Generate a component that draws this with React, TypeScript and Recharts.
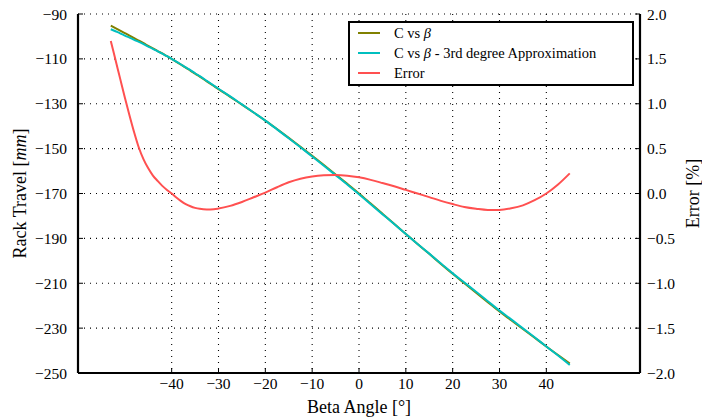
import { LineChart, Line, XAxis, YAxis, CartesianGrid, Legend } from "recharts";

const beta = [
    -53, -52, -51, -50, -49, -48, -47, -46, -45, -44, -43, -42, -41, -40, -39, -38, -37, -36,
    -35, -34, -32.5, -31, -30, -27.5, -25, -22.5, -20, -17.5, -15, -12.5, -10, -7.5, -5, -2.5,
    0, 2.5, 5, 7.5, 10, 12.5, 15, 17.5, 20, 22.5, 25, 27.5, 30, 32.5, 35, 37.5, 40, 42.5, 45,
];
const rackTravel = [
    -95.2, -96.3, -97.4, -98.5, -99.6, -100.8, -101.9, -103.0, -104.2, -105.3, -106.5, -107.6,
    -108.8, -110.0, -111.3, -112.6, -113.9, -115.2, -116.6, -117.9, -120.0, -122.1, -123.5, -126.9,
    -130.4, -133.9, -137.5, -141.3, -145.2, -149.2, -153.2, -157.3, -161.5, -165.7, -170.0, -174.5,
    -179.0, -183.5, -188.0, -192.5, -196.9, -201.4, -205.8, -210.0, -214.2, -218.4, -222.6, -226.5,
    -230.4, -234.3, -238.2, -242.0, -245.8,
];
const rackApprox = [
    -96.8, -97.7, -98.6, -99.6, -100.5, -101.5, -102.4, -103.4, -104.5, -105.5, -106.6, -107.7,
    -108.8, -110.0, -111.2, -112.5, -113.8, -115.0, -116.4, -117.7, -119.8, -121.9, -123.3, -126.7,
    -130.3, -133.9, -137.5, -141.4, -145.4, -149.4, -153.5, -157.6, -161.8, -166.0, -170.3, -174.8,
    -179.2, -183.6, -188.1, -192.5, -196.8, -201.2, -205.6, -209.7, -213.8, -218.0, -222.2, -226.1,
    -230.1, -234.1, -238.2, -242.2, -246.4,
];
const errorPct = [
    1.7, 1.49, 1.28, 1.07, 0.87, 0.68, 0.51, 0.38, 0.28, 0.2, 0.14, 0.085, 0.04, 0.0, -0.045, -0.085,
    -0.118, -0.142, -0.16, -0.171, -0.177, -0.175, -0.168, -0.138, -0.094, -0.042, 0.01, 0.07,
    0.125, 0.165, 0.19, 0.202, 0.205, 0.198, 0.18, 0.152, 0.117, 0.08, 0.04, 0.0, -0.04, -0.082,
    -0.118, -0.15, -0.17, -0.183, -0.183, -0.165, -0.132, -0.075, 0.0, 0.1, 0.224,
];

const xTicks = [-40, -30, -20, -10, 0, 10, 20, 30, 40];
const leftTicks = [-90, -110, -130, -150, -170, -190, -210, -230, -250];
const rightTicks = [2, 1.5, 1, 0.5, 0, -0.5, -1, -1.5, -2];

const data = beta.map((b, i) => ({
    beta: b,
    c: rackTravel[i],
    approx: rackApprox[i],
    err: errorPct[i],
}));

const FONT = "Liberation Serif";
const TXT = { fontFamily: FONT };
const minus = (s: string) => s.replace("-", "\u2212");

const legendItems = [
    { color: "#808000", label: <>C vs <tspan fontStyle="italic">β</tspan></> },
    { color: "#00bfbf", label: <>C vs <tspan fontStyle="italic">β</tspan> - 3rd degree Approximation</> },
    { color: "#ff5050", label: <>Error</> },
];

function LegendBox() {
    return (
        <svg width={286} height={65} style={{ display: "block" }}>
            <rect x={1} y={1} width={284} height={63} fill="#fff" stroke="#000" strokeWidth={2} />
            {legendItems.map((it, i) => (
                <g key={i}>
                    <line x1={10} x2={32} y1={12 + i * 20} y2={12 + i * 20} stroke={it.color} strokeWidth={2} />
                    <text x={46} y={17 + i * 20} style={TXT} fontSize={14.5} fill="#000">
                        {it.label}
                    </text>
                </g>
            ))}
        </svg>
    );
}

function BottomTick({ x, y, payload }: any) {
    return (
        <text x={x} y={y} dy="0.71em" textAnchor="middle" style={TXT} fontSize={15.5} fill="#000">
            {minus(String(payload.value))}
        </text>
    );
}

function LeftTick({ x, y, payload }: any) {
    return (
        <text x={x} y={y} dy="0.36em" textAnchor="end" style={TXT} fontSize={15.5} fill="#000">
            {minus(String(payload.value))}
        </text>
    );
}

function RightTick({ x, y, payload }: any) {
    return (
        <text x={x} y={y} dy="0.36em" textAnchor="start" style={TXT} fontSize={15.5} fill="#000">
            {minus(Number(payload.value).toFixed(1))}
        </text>
    );
}

function BottomLabel({ viewBox }: any) {
    const cx = viewBox.x + viewBox.width / 2;
    return (
        <text x={cx} y={413} textAnchor="middle" style={TXT} fontSize={18} fill="#000">
            Beta Angle [°]
        </text>
    );
}

function LeftLabel({ viewBox }: any) {
    const cx = 20;
    const cy = viewBox.y + viewBox.height / 2;
    return (
        <text x={cx} y={cy} transform={`rotate(-90 ${cx} ${cy})`} textAnchor="middle" dominantBaseline="central"
            style={TXT} fontSize={18} fill="#000">
            Rack Travel [<tspan fontStyle="italic">mm</tspan>]
        </text>
    );
}

function RightLabel({ viewBox }: any) {
    const cx = 693;
    const cy = viewBox.y + viewBox.height / 2;
    return (
        <text x={cx} y={cy} transform={`rotate(-90 ${cx} ${cy})`} textAnchor="middle" dominantBaseline="central"
            style={TXT} fontSize={18} fill="#000">
            Error [%]
        </text>
    );
}

const axisLine = { stroke: "#000", strokeWidth: 2.2 };
const tickLine = { stroke: "#000", strokeWidth: 1 };

export default function App() {
    return (
        <div style={{ position: "fixed", left: 0, top: 0, width: 702, height: 419, background: "#fff" }}>
            <LineChart width={702} height={419} data={data} margin={{ top: 14, right: 0, bottom: 0, left: 0 }}>
                <CartesianGrid stroke="#000" strokeDasharray="1 5" strokeWidth={1.1} fill="none" />
                <XAxis
                    dataKey="beta"
                    type="number"
                    domain={[-60, 60]}
                    ticks={xTicks}
                    height={46}
                    axisLine={axisLine}
                    tickLine={tickLine}
                    tickSize={-5}
                    tickMargin={10}
                    tick={<BottomTick />}
                    label={<BottomLabel />}
                />
                <XAxis
                    xAxisId="top"
                    dataKey="beta"
                    type="number"
                    orientation="top"
                    domain={[-60, 60]}
                    ticks={xTicks}
                    height={0}
                    axisLine={axisLine}
                    tickLine={tickLine}
                    tickSize={-5}
                    tick={false}
                />
                <YAxis
                    type="number"
                    domain={[-250, -90]}
                    ticks={leftTicks}
                    width={78}
                    axisLine={axisLine}
                    tickLine={tickLine}
                    tickSize={-5}
                    tickMargin={16}
                    tick={<LeftTick />}
                    label={<LeftLabel />}
                />
                <YAxis
                    yAxisId="right"
                    orientation="right"
                    type="number"
                    domain={[-2, 2]}
                    ticks={rightTicks}
                    width={62}
                    axisLine={axisLine}
                    tickLine={tickLine}
                    tickSize={-5}
                    tickMargin={12}
                    tick={<RightTick />}
                    label={<RightLabel />}
                />
                <Legend
                    layout="vertical"
                    align="center"
                    verticalAlign="middle"
                    content={() => <LegendBox />}
                    wrapperStyle={{ position: "absolute", left: 348, top: 21, width: 286, height: 65 }}
                />
                <Line type="monotone" dataKey="c" stroke="#808000" strokeWidth={2} dot={false} isAnimationActive={false} />
                <Line type="monotone" dataKey="approx" stroke="#00bfbf" strokeWidth={2} dot={false} isAnimationActive={false} />
                <Line type="monotone" dataKey="err" yAxisId="right" stroke="#ff5050" strokeWidth={2} dot={false} isAnimationActive={false} />
            </LineChart>
        </div>
    );
}
